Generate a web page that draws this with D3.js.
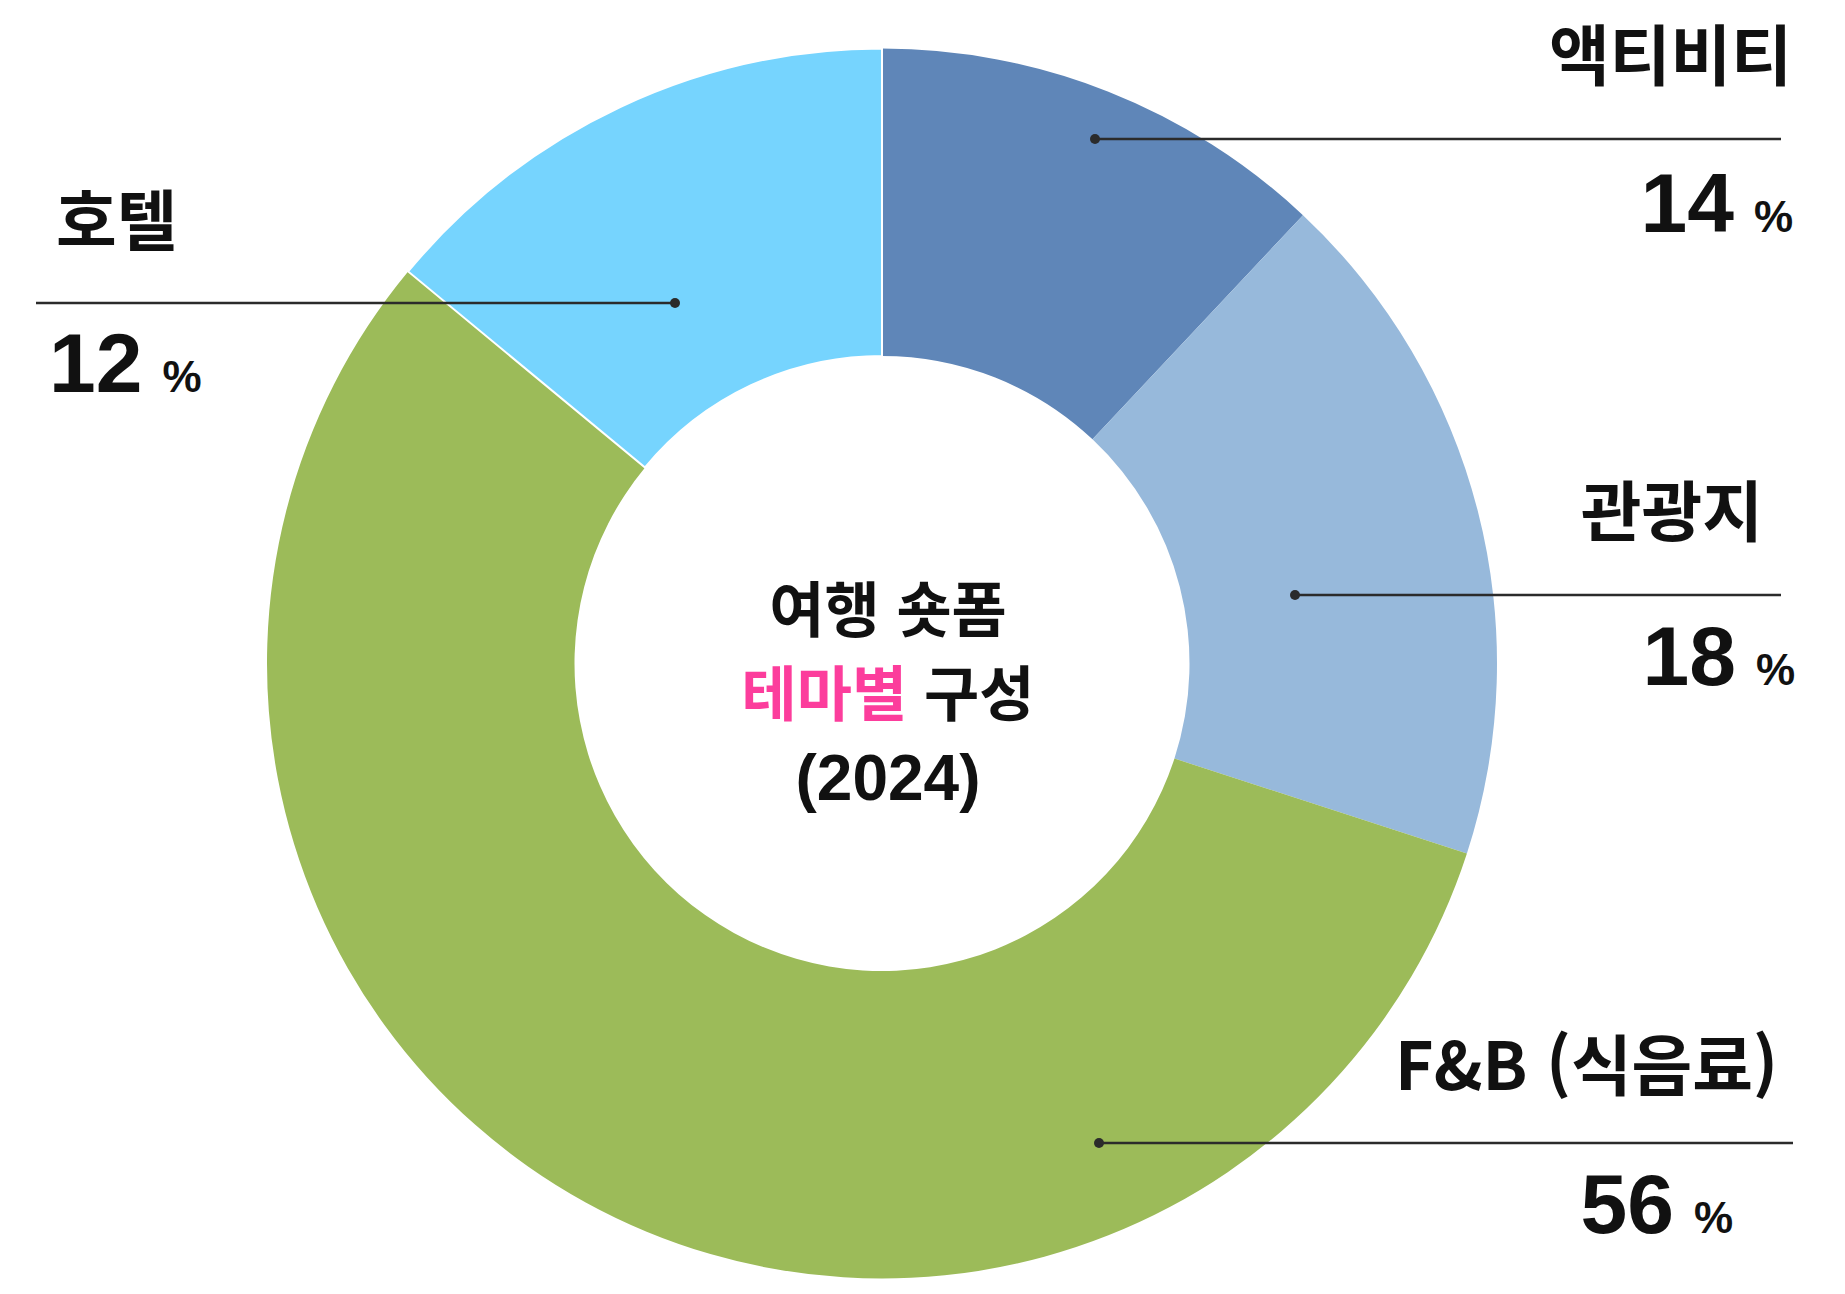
<!DOCTYPE html>
<html lang="ko">
<head>
<meta charset="utf-8">
<script src="https://cdn.jsdelivr.net/npm/d3@7"></script>
<style>
    html, body { margin: 0; padding: 0; background: #fff; }
    #chart { width: 1845px; height: 1294px; }
    .kr { font-family: "Noto Sans CJK KR", "Noto Sans", sans-serif; font-weight: 700; }
    .num { font-family: "Liberation Sans", Arial, sans-serif; font-weight: 700; }
</style>
</head>
<body>
<div id="chart"></div>
<script>
// slice order clockwise from 12 o'clock
const categories = ['액티비티', '관광지', 'F&B (식음료)', '호텔'];
const sliceValues = [12, 18, 56, 14];
const percentLabels = ['14', '18', '56', '12'];
const sliceColors = ['#5f86b8', '#97b9db', '#9cbb59', '#76d4fe'];
const centerLines = [['여행 숏폼'], ['테마별', ' 구성'], ['(2024)']];

// annotation layout, one entry per category
const annotations = [
    { dot: [1095, 139], lineTo: 1781, labelX: 1792, labelY: 80, pctX: 1793, pctY: 232 },
    { dot: [1295, 595], lineTo: 1781, labelX: 1763, labelY: 536, pctX: 1795, pctY: 685 },
    { dot: [1099, 1143], lineTo: 1793, labelX: 1778, labelY: 1090, pctX: 1733, pctY: 1233 },
    { dot: [675, 303], lineTo: 36, labelX: 56, labelY: 245, pctX: 49, pctY: 392, left: true }
];

const width = 1845, height = 1294;
const cx = 882, cy = 663.5;
const outerR = 615, innerR = 307.5;

const svg = d3.select('#chart')
    .append('svg')
    .attr('width', width)
    .attr('height', height);

const g = svg.append('g')
    .attr('transform', `translate(${cx},${cy})`);

const pie = d3.pie().sort(null).value(d => d)(sliceValues);
const arc = d3.arc().innerRadius(innerR).outerRadius(outerR);

g.selectAll('.slice')
    .data(pie)
    .enter()
    .append('path')
    .attr('class', 'slice')
    .attr('d', arc)
    .attr('fill', (d, i) => sliceColors[i])
    .attr('stroke', (d, i) => i === 3 ? '#fff' : 'none')
    .attr('stroke-width', 2);

// center title
centerLines.forEach((parts, i) => {
    const line = svg.append('text')
        .attr('class', i === 2 ? 'num' : 'kr')
        .attr('x', 888)
        .attr('y', 632 + i * 84)
        .attr('text-anchor', 'middle')
        .style('font-size', i === 2 ? '64px' : '60px');
    parts.forEach((p, j) => {
        line.append('tspan')
            .text(p)
            .style('fill', i === 1 && j === 0 ? '#fc3d9c' : '#111');
    });
});

// leader lines, dots and labels
const ann = svg.append('g').attr('class', 'annotations');

annotations.forEach((a, i) => {
    ann.append('line')
        .attr('x1', a.dot[0]).attr('y1', a.dot[1])
        .attr('x2', a.lineTo).attr('y2', a.dot[1])
        .attr('stroke', '#2b2b2b')
        .attr('stroke-width', 2.5);

    ann.append('circle')
        .attr('cx', a.dot[0]).attr('cy', a.dot[1])
        .attr('r', 5)
        .attr('fill', '#2b2b2b');

    ann.append('text')
        .attr('class', 'kr')
        .attr('x', a.labelX)
        .attr('y', a.labelY)
        .attr('text-anchor', a.left ? 'start' : 'end')
        .style('font-size', '66px')
        .style('fill', '#111')
        .text(categories[i]);

    const pct = ann.append('text')
        .attr('class', 'num')
        .attr('x', a.pctX)
        .attr('y', a.pctY)
        .attr('text-anchor', a.left ? 'start' : 'end')
        .style('fill', '#111');
    pct.append('tspan').style('font-size', '84px').text(percentLabels[i]);
    pct.append('tspan').attr('dx', 20).style('font-size', '44px').text('%');
});
</script>
</body>
</html>
